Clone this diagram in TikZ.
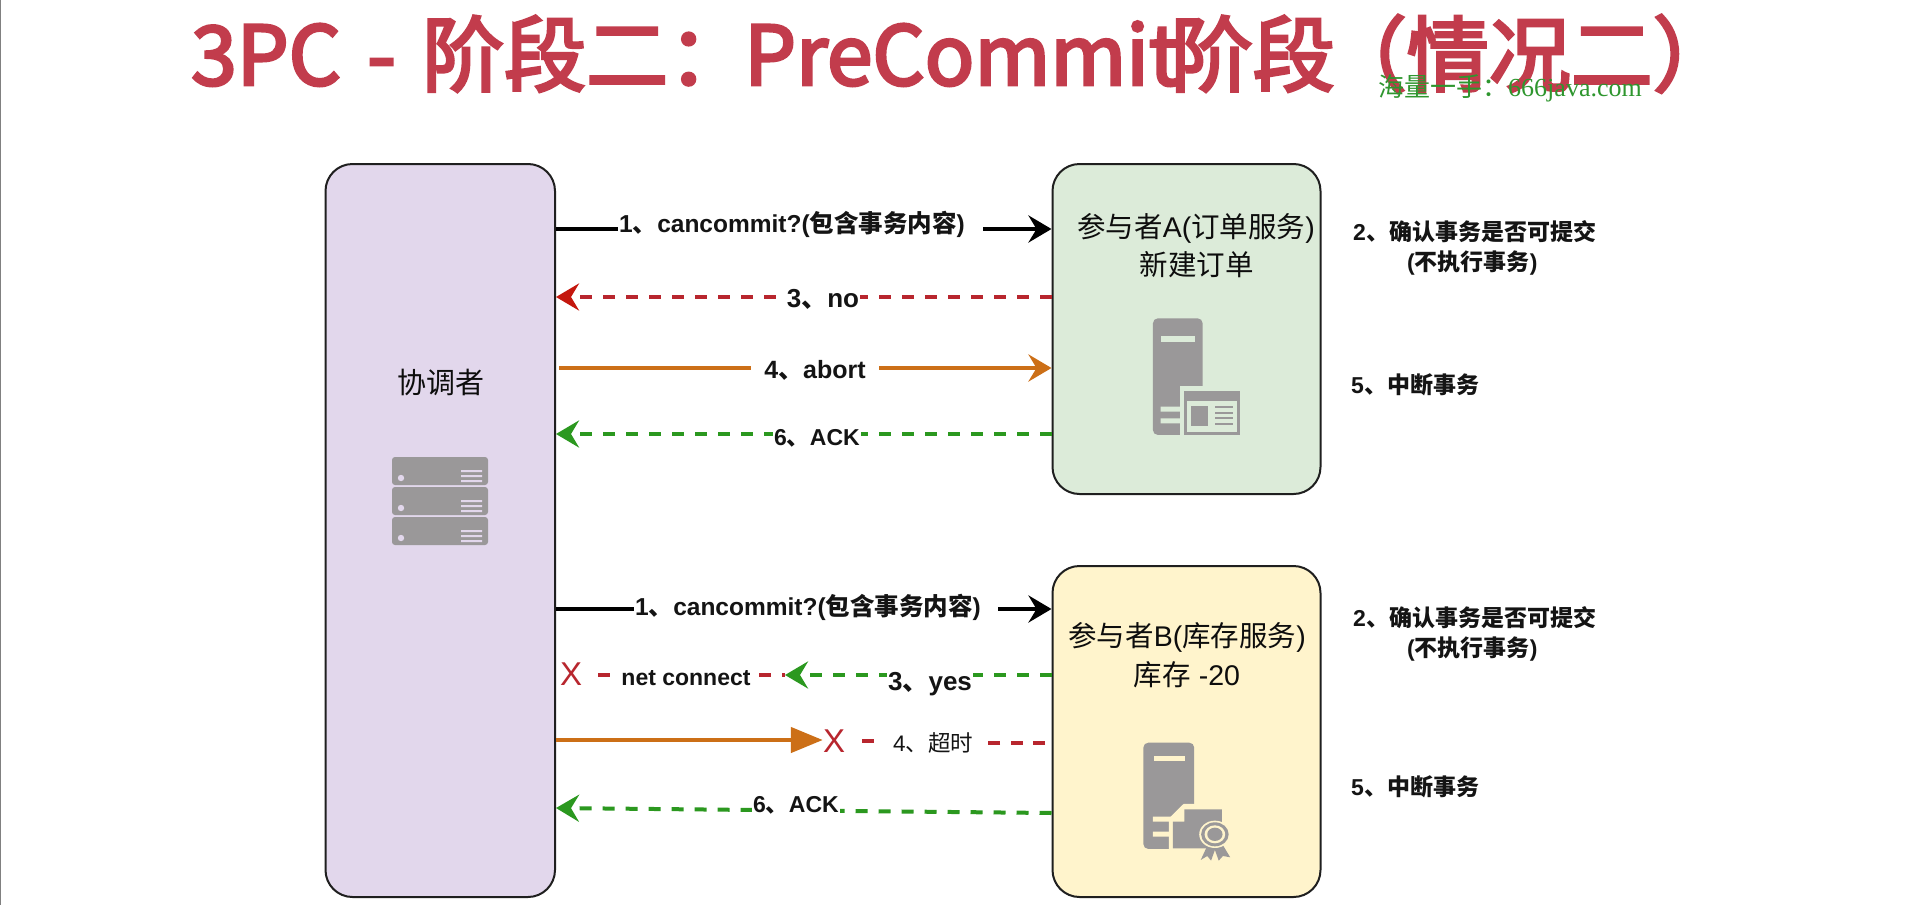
\documentclass[tikz,border=0pt]{standalone}
\usepackage{fontspec}
\setmainfont{Liberation Sans}
\newfontfamily\cjk{Noto Sans CJK SC}
\newfontfamily\ttl[FakeBold=3.5]{Noto Sans CJK SC}
\newfontfamily\serifm{Liberation Serif}
\usetikzlibrary{arrows.meta}
\definecolor{cpurple}{HTML}{E2D7EC}
\definecolor{cgreen}{HTML}{DCEBD9}
\definecolor{cyellow}{HTML}{FFF4CC}
\definecolor{cgray}{HTML}{9A9899}
\definecolor{corange}{HTML}{CC6F17}
\definecolor{cred}{HTML}{B8262E}
\definecolor{credtip}{HTML}{C4170E}
\definecolor{cgrn}{HTML}{2B981F}
\definecolor{ctitle}{HTML}{C23C4C}
\definecolor{cmark}{HTML}{2E962E}
\newcommand{\fs}[1]{\fontsize{#1}{#1}\selectfont}
\newcommand{\zh}[1]{{\cjk #1}}
\tikzset{
  box/.style={draw=black!88,line width=2pt,rounded corners=27pt,inner sep=0pt},
  lbl/.style={inner xsep=1pt,inner ysep=0pt,text=black!92,font=\bfseries\fs{#1},anchor=center,text height=.78*#1 pt,text depth=.2*#1 pt},
  lblw/.style={lbl=#1,fill=white},
  plain/.style={inner sep=0pt,text=black!95,font=\fs{#1},anchor=center,text height=.78*#1 pt,text depth=.2*#1 pt},
  side/.style={inner sep=0pt,text=black!92,font=\bfseries\fs{23},text height=18pt,text depth=5pt},
  cross/.style={inner sep=0pt,text=cred,font=\fs{33},text height=24pt,text depth=0pt},
  tipS/.style={-{Stealth[length=23pt,width=27pt,inset=8pt]}},
  blk/.style={draw=black,line width=4pt},
  org/.style={draw=corange,line width=4.5pt},
  rdd/.style={draw=cred,line width=4pt,dash pattern=on 12pt off 11pt},
  grd/.style={draw=cgrn,line width=4pt,dash pattern=on 12pt off 11pt},
  iconfill/.style={fill=cgray,draw=none}
}
\begin{document}
\begin{tikzpicture}[x=1pt,y=-1pt]
\useasboundingbox (0,0) rectangle (1920,905);
\fill[white] (0,0) rectangle (1920,905);
\draw[draw=black!50,line width=1.5pt] (0.5,0) -- (0.5,905);
% title
\node[inner sep=0pt,text=ctitle,font=\fs{82}\ttl,text height=66pt,text depth=12pt] (title) at (963,58)
 {3PC\hspace{8pt} - \hspace{8pt}阶段二：\hspace{-6pt}PreCommit\hspace{-9pt}阶段\hspace{-10pt}（情况二）};
\node[inner sep=0pt,text=cmark,font=\fs{26}\serifm,text height=19pt,text depth=5pt] (mark) at (1510,89)
 {\zh{海量一手：}666java.com};
% boxes
\node[box,fill=cpurple,minimum width=229.5pt,minimum height=733pt] (coord) at (440.25,530.5) {};
\node[box,fill=cgreen,minimum width=268pt,minimum height=330pt] (A) at (1186.5,329) {};
\node[box,fill=cyellow,minimum width=268pt,minimum height=331pt] (B) at (1186.5,731.5) {};
\node[plain=29] (cname) at (440.5,385) {\zh{协调者}};
\node[plain=28.5] (aname) at (1196,229) {\zh{参与者}A(\zh{订单服务})};
\node[plain=28.5] (aname2) at (1196.5,267) {\zh{新建订单}};
\node[plain=28.5] (bname) at (1187,638) {\zh{参与者}B(\zh{库存服务})};
\node[plain=28.5] (bname2) at (1187,677) {\zh{库存} -20};
% anchors on box sides
\coordinate (c1) at (coord.east |- 0,229);  \coordinate (a1) at (A.west |- 0,229);
\coordinate (c2) at (coord.east |- 0,297);  \coordinate (a2) at (A.west |- 0,297);
\coordinate (c3) at (coord.east |- 0,368);  \coordinate (a3) at (A.west |- 0,368);
\coordinate (c4) at (coord.east |- 0,434);  \coordinate (a4) at (A.west |- 0,434);
\coordinate (c5) at (coord.east |- 0,609);  \coordinate (b1) at (B.west |- 0,609);
\coordinate (b2) at (B.west |- 0,675);
\coordinate (c7) at (coord.east |- 0,740);
\coordinate (c8) at (coord.east |- 0,808);  \coordinate (b4) at (B.west |- 0,813);
\coordinate (greenend) at (785,675);
\coordinate (redend) at (1045,743);
\coordinate (redgap) at (988,743);
% upper rows
\node[lbl=24.5] (l1) at (792,225) {1\zh{、}cancommit?(\zh{包含事务内容})};
\draw[blk] (c1) -- (c1 -| l1.west);
\draw[blk,tipS] ([xshift=17pt]l1.east |- a1) -- (a1);
\draw[rdd,-{Stealth[length=23pt,width=27pt,inset=8pt,color=credtip]}] (a2) -- (c2);
\node[lblw=26] (l2) at (823,300) {3\zh{、}no};
\draw[org] ([xshift=3pt]c3) -- (c3 -| 751,0);
\draw[org,tipS] (879,368) -- (a3);
\node[lbl=25] (l3) at (815,371) {4\zh{、}abort};
\draw[grd,tipS] (a4) -- (c4);
\node[lblw=23] (l4) at (817,439) {6\zh{、}ACK};
% lower rows
\node[lbl=24.5] (l5) at (808,608) {1\zh{、}cancommit?(\zh{包含事务内容})};
\draw[blk] (c5) -- (c5 -| l5.west);
\draw[blk,tipS] ([xshift=16pt]l5.east |- b1) -- (b1);
\node[cross,minimum width=54pt] (x1) at (571,673) {X};
\draw[rdd] (x1.east |- greenend) -- (greenend);
\node[lblw=23] (l6) at (686,679) {net connect};
\draw[grd,tipS] (b2) -- (greenend);
\node[lblw=26] (l7) at (930,683) {3\zh{、}yes};
\node[cross] (x2) at (834,740) {X};
\draw[org,-{Triangle[length=32pt,width=25pt]}] (c7) -- (x2.west |- c7);
\node[plain=22.5,text=black!92,fill=white] (l8) at (933,745) {4\zh{、超时}};
\draw[rdd,dash pattern=on 12pt off 40pt] (862,741) -- (l8.west |- 0,741);
\draw[rdd,dash pattern=on 12pt off 10.5pt] (redend) -- (redgap);
\draw[grd,tipS] (b4) -- (c8);
\node[lblw=23] (l9) at (796,806) {6\zh{、}ACK};
% side notes
\node[side,anchor=west] (n1) at (1353,234) {2\zh{、确认事务是否可提交}};
\node[side,anchor=west] (n2) at (1407,264) {(\zh{不执行事务})};
\node[side,anchor=west] (n3) at (1351,387) {5\zh{、中断事务}};
\node[side,anchor=west] (n4) at (1353,620) {2\zh{、确认事务是否可提交}};
\node[side,anchor=west] (n5) at (1407,650) {(\zh{不执行事务})};
\node[side,anchor=west] (n6) at (1351,789) {5\zh{、中断事务}};
% stack icon
\foreach \y in {457,487,517}{
  \fill[cgray,rounded corners=3pt] (392,\y) rectangle (488,\y+28);
  \fill[cpurple] (401,\y+21) circle[radius=3.2];
  \fill[cpurple] (461,\y+13) rectangle (482,\y+15) (461,\y+18) rectangle (482,\y+20) (461,\y+23) rectangle (482,\y+25);
}
% server icon A (zoom coordinates)
\begin{scope}[shift={(1040,150)},x=.3827pt,y=-.3333pt]
  \fill[cgray,rounded corners=5pt] (295,855) -- (295,505) -- (425,505) -- (425,855) -- cycle;
  \fill[cgreen] (315,558) rectangle (405,575);
  \fill[cgreen] (315,770) rectangle (370,785) (315,805) rectangle (370,820);
  \fill[cgreen] (365,708) rectangle (540,860);
  \fill[cgray] (375,722) rectangle (523,855);
  \fill[cgreen] (385,752) rectangle (515,845);
  \fill[cgray] (395,768) rectangle (438,828);
  \foreach \y in {770,788,805,822} \fill[cgray] (458,\y-3) rectangle (503,\y+3);
\end{scope}
% server icon B (zoom coordinates)
\begin{scope}[shift={(1040,550)},x=.3827pt,y=-.3333pt]
  \fill[cgray,rounded corners=5pt] (270,897) -- (270,578) -- (403,578) -- (403,897) -- cycle;
  \fill[cyellow] (297,618) rectangle (378,633);
  \fill[cyellow] (295,800) rectangle (345,815) (295,845) rectangle (345,860);
  \fill[cyellow] (337,905) -- (337,805) -- (375,762) -- (410,762) -- (410,905) -- cycle;
  \fill[cgray] (347,895) -- (347,815) -- (377,815) -- (377,778) -- (475,778) -- (475,895) -- cycle;
  \fill[cyellow] (347,807) -- (370,807) -- (370,782) -- cycle;
  \fill[cgray] (440,880) -- (420,930) -- (437,918) -- (447,932) -- (457,900) -- (467,932) -- (478,918) -- (497,922) -- (475,880) -- cycle;
  \fill[cyellow] (457,853) circle[radius=41];
  \fill[cgray] (457,853) circle[radius=36];
  \fill[cyellow] (457,853) circle[radius=27];
  \fill[cgray] (457,853) circle[radius=20];
\end{scope}
\end{tikzpicture}
\end{document}
